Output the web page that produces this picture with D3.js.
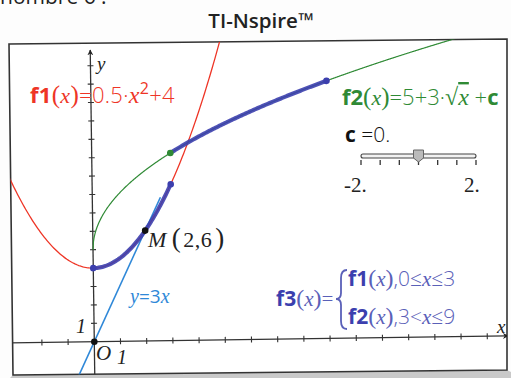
<!DOCTYPE html>
<html>
<head>
<meta charset="utf-8">
<script src="https://cdn.jsdelivr.net/npm/d3@7"></script>
<style>
  body { margin: 0; background: #fdfdfd; }
  svg { display: block; }
</style>
</head>
<body>
<svg id="chart" width="511" height="378"></svg>
<script>
// donnees du graphique
var f1Coef = [0.5, 4];          // f1(x) = a*x^2 + b
var f2Coef = [5, 3];            // f2(x) = a + b*sqrt(x) + c
var cValue = 0;
var f3Bounds = [0, 3, 9];       // f1 sur [0,3], f2 sur ]3,9]
var lineSlope = 3;              // y = 3x
var pointM = [2, 6];
var xTicks = [-2, -1, 1, 2, 3, 4, 5, 6, 7, 8, 9, 10, 11, 12, 13, 14, 15];
var yTicks = [1, 2, 3, 4, 5, 6, 7, 8, 9, 10, 11, 12, 13, 14, 15];
var sliderRange = [-2, 2];
var sliderTicks = [-2, -1.333, -0.667, 0, 0.667, 1.333, 2];

var red = "#ee3526", green = "#2f8a35", thick = "#3c3fae", light = "#2f88d8", purple = "#5a60b8";
var SANS = "'Open Sans', 'Noto Sans', sans-serif", SERIF = "'Liberation Serif', 'DejaVu Serif', serif";

function f1(v) { return f1Coef[0] * v * v + f1Coef[1]; }
function f2(v) { return f2Coef[0] + f2Coef[1] * Math.sqrt(v) + cValue; }

var svg = d3.select("#chart");

// echelles
var x = d3.scaleLinear().domain([0, 15]).range([94.3, 487.3]);
var y = d3.scaleLinear().domain([0, 15]).range([341.7, 65.7]);

// texte coupe en haut + titre
svg.append("text").attr("x", 0).attr("y", 4)
  .style("font-family", SANS).style("font-size", "21px").style("fill", "#222")
  .text("nombre 6 :");
svg.append("text").attr("x", 261).attr("y", 28).attr("text-anchor", "middle")
  .style("font-family", SANS).style("font-weight", 600).style("font-size", "20.5px").style("fill", "#222")
  .text("TI-Nspire™");

// ecran
var frame = [[9, 44], [507, 39], [507, 370], [13, 375]];
svg.append("path")
  .attr("d", "M13,375L507,370L511,372L511,378L10,378Z")
  .style("fill", "#c9c9c9");
svg.append("path")
  .attr("d", "M" + frame.join("L") + "Z")
  .style("fill", "#fff").style("stroke", "#333").style("stroke-width", 1.6);

var defs = svg.append("defs");
defs.append("clipPath").attr("id", "clip")
  .append("path").attr("d", "M" + frame.join("L") + "Z");
defs.append("marker").attr("id", "arrow")
  .attr("viewBox", "0 0 10 10").attr("refX", 9).attr("refY", 5)
  .attr("markerWidth", 4.5).attr("markerHeight", 4.5).attr("orient", "auto")
  .append("path").attr("d", "M0,0L10,5L0,10L3,5Z").style("fill", "#222");

var plot = svg.append("g").attr("clip-path", "url(#clip)")
  .append("g")
  .attr("transform", "rotate(-0.8," + x(0) + "," + y(0) + ")");

// axes
plot.append("line")
  .attr("x1", x(-3.2)).attr("x2", x(15.8)).attr("y1", y(0)).attr("y2", y(0))
  .style("stroke", "#333").style("stroke-width", 1.3).attr("marker-end", "url(#arrow)");
plot.append("line")
  .attr("x1", x(0)).attr("x2", x(0)).attr("y1", y(-2.5)).attr("y2", y(15.85))
  .style("stroke", "#333").style("stroke-width", 1.3).attr("marker-end", "url(#arrow)");

plot.selectAll(".xt").data(xTicks).enter().append("line")
  .attr("class", "xt")
  .attr("x1", function (d) { return x(d); }).attr("x2", function (d) { return x(d); })
  .attr("y1", y(0) - 3).attr("y2", y(0) + 3)
  .style("stroke", "#333").style("stroke-width", 1.1);
plot.selectAll(".yt").data(yTicks).enter().append("line")
  .attr("class", "yt")
  .attr("x1", x(0) - 3).attr("x2", x(0) + 3)
  .attr("y1", function (d) { return y(d); }).attr("y2", function (d) { return y(d); })
  .style("stroke", "#333").style("stroke-width", 1.1);

var line = d3.line()
  .x(function (d) { return x(d[0]); })
  .y(function (d) { return y(d[1]); });

// courbes
plot.append("path")
  .datum(d3.range(-3.4, 5.2, 0.05).map(function (v) { return [v, f1(v)]; }))
  .attr("d", line).style("fill", "none").style("stroke", red).style("stroke-width", 1.3);
plot.append("path")
  .datum(d3.range(0, 14.5, 0.02).map(function (v) { return [v, f2(v)]; }))
  .attr("d", line).style("fill", "none").style("stroke", green).style("stroke-width", 1.2);
plot.append("path")
  .datum([-1, 2.6].map(function (v) { return [v, lineSlope * v]; }))
  .attr("d", line).style("fill", "none").style("stroke", light).style("stroke-width", 1.6);

// f3 en trait epais
var f3a = d3.range(f3Bounds[0], f3Bounds[1] + 0.001, 0.05).map(function (v) { return [v, f1(v)]; });
var f3b = d3.range(f3Bounds[1], f3Bounds[2] + 0.001, 0.05).map(function (v) { return [v, f2(v)]; });
[f3a, f3b].forEach(function (pts) {
  plot.append("path").datum(pts).attr("d", line)
    .style("fill", "none").style("stroke", thick).style("stroke-width", 4.2)
    .style("stroke-linecap", "round").style("opacity", 0.9);
});

// points
var dots = [
  [f3Bounds[0], f1(f3Bounds[0]), thick],
  [f3Bounds[1], f1(f3Bounds[1]), thick],
  [f3Bounds[1], f2(f3Bounds[1]), green],
  [f3Bounds[2], f2(f3Bounds[2]), thick],
  [pointM[0], pointM[1], "#111"],
  [0, 0, "#111"]
];
plot.selectAll(".pt").data(dots).enter().append("circle")
  .attr("class", "pt")
  .attr("cx", function (d) { return x(d[0]); })
  .attr("cy", function (d) { return y(d[1]); })
  .attr("r", 3.3)
  .style("fill", function (d) { return d[2]; });

// texte riche
function rich(px, py, size, color, parts, ls) {
  var t = svg.append("text").attr("x", px).attr("y", py)
    .style("font-size", size + "px").style("fill", color);
  if (ls) t.style("letter-spacing", ls + "px");
  parts.forEach(function (p) {
    var s = t.append("tspan").text(p.t)
      .style("font-family", p.f == "serif" ? SERIF : SANS);
    if (p.w) s.style("font-weight", p.w);
    if (p.i) s.style("font-style", "italic");
    if (p.s) s.style("font-size", p.s + "px");
    if (p.c) s.style("fill", p.c);
    if (p.dy) s.attr("dy", p.dy);
    if (p.dx) s.attr("dx", p.dx);
    if (p.o) s.style("text-decoration", "overline");
  });
  return t;
}

rich(30, 103, 22, red, [
  { t: "f1", w: 700 }, { t: "(", f: "serif", s: 25 }, { t: "x", f: "serif", i: 1 }, { t: ")", f: "serif", s: 25 },
  { t: "=0.5·", w: 300 }, { t: "x", f: "serif", i: 1, s: 24 }, { t: "2", s: 16, dy: -9 }, { t: "+4", w: 300, dy: 9 }
], 0.3);

rich(342, 105, 22, green, [
  { t: "f2", w: 700 }, { t: "(", f: "serif", s: 25 }, { t: "x", f: "serif", i: 1 }, { t: ")", f: "serif", s: 25 },
  { t: "=5+3·", w: 300 }, { t: "√", f: "serif", s: 24 }, { t: "x", f: "serif", i: 1, o: 1, s: 24 },
  { t: " +", w: 300 }, { t: "c", w: 700 }
]);

rich(345, 142, 21, "#111", [{ t: "c", w: 700 }, { t: " =0.", w: 300 }]);

// curseur
var cScale = d3.scaleLinear().domain(sliderRange).range([361, 476]);
svg.append("rect").attr("x", cScale(-2)).attr("y", 154).attr("width", cScale(2) - cScale(-2)).attr("height", 4)
  .attr("rx", 2).style("fill", "#f2f2f2").style("stroke", "#444").style("stroke-width", 1.1);
svg.selectAll(".st").data(sliderTicks).enter().append("line")
  .attr("class", "st")
  .attr("x1", function (d) { return cScale(d); }).attr("x2", function (d) { return cScale(d); })
  .attr("y1", 160).attr("y2", 165)
  .style("stroke", "#333").style("stroke-width", 1.3);
svg.append("path")
  .attr("d", "M" + (cScale(cValue) - 5) + ",150h10v8l-5,4l-5,-4Z")
  .style("fill", "#bbb").style("stroke", "#666").style("stroke-width", 1);
svg.append("text").attr("x", 344).attr("y", 192)
  .style("font-family", SERIF).style("font-size", "21px").style("fill", "#222").text("-2.");
svg.append("text").attr("x", 464).attr("y", 192)
  .style("font-family", SERIF).style("font-size", "21px").style("fill", "#222").text("2.");

// M(2,6)
rich(148, 247, 22, "#222", [
  { t: "M", f: "serif", i: 1 }, { t: "(", f: "serif", s: 27, dx: 5 }, { t: "2,6", f: "serif", dx: 2 },
  { t: ")", f: "serif", s: 27, dx: 3 }
], 0.5);

// y=3x
rich(130, 303, 19, light, [{ t: "y", f: "serif", i: 1, s: 20 }, { t: "=3" }, { t: "x", f: "serif", i: 1, s: 20 }]);

// f3
rich(276, 306, 21, thick, [
  { t: "f3", w: 700 }, { t: "(", f: "serif", s: 24, c: purple }, { t: "x", f: "serif", i: 1, c: purple },
  { t: ")", f: "serif", s: 24, c: purple }, { t: "=", w: 300, c: purple }
]);
svg.append("path")
  .attr("d", "M347,270Q341,270 341,278L341,293Q341,299 336,299Q341,299 341,305L341,321Q341,329 347,329")
  .style("fill", "none").style("stroke", purple).style("stroke-width", 1.8);
rich(348, 286, 21, thick, [
  { t: "f1", w: 700 }, { t: "(", f: "serif", s: 24, c: purple }, { t: "x", f: "serif", i: 1, c: purple },
  { t: ")", f: "serif", s: 24, c: purple }, { t: ",0≤", w: 300, c: purple }, { t: "x", f: "serif", i: 1, c: purple },
  { t: "≤3", w: 300, c: purple }
]);
rich(348, 324, 21, thick, [
  { t: "f2", w: 700 }, { t: "(", f: "serif", s: 24, c: purple }, { t: "x", f: "serif", i: 1, c: purple },
  { t: ")", f: "serif", s: 24, c: purple }, { t: ",3<", w: 300, c: purple }, { t: "x", f: "serif", i: 1, c: purple },
  { t: "≤9", w: 300, c: purple }
]);

// etiquettes des axes
var axisLab = [["y", 97, 70], ["x", 497, 333]];
axisLab.forEach(function (d) {
  svg.append("text").attr("x", d[1]).attr("y", d[2])
    .style("font-family", SERIF).style("font-style", "italic").style("font-size", "19px").style("fill", "#222")
    .text(d[0]);
});
svg.append("text").attr("x", 96).attr("y", 360)
  .style("font-family", SERIF).style("font-style", "italic").style("font-size", "21px").style("fill", "#222").text("O");
svg.append("text").attr("x", 117).attr("y", 364)
  .style("font-family", SERIF).style("font-style", "italic").style("font-size", "20px").style("fill", "#222").text("1");
svg.append("text").attr("x", 76).attr("y", 333)
  .style("font-family", SERIF).style("font-style", "italic").style("font-size", "20px").style("fill", "#222").text("1");
</script>
</body>
</html>
